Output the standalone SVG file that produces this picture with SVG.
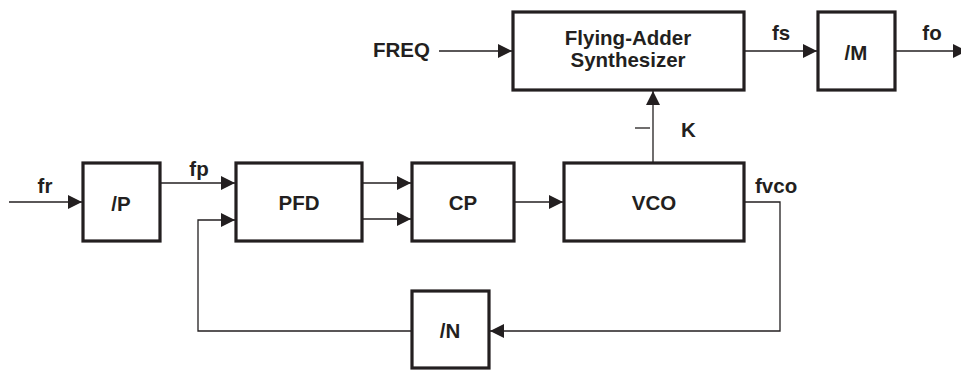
<svg xmlns="http://www.w3.org/2000/svg" width="961" height="370" viewBox="0 0 961 370">
<style>
.box{fill:#fff;stroke:#231f20;stroke-width:3.2}
.ln{fill:none;stroke:#231f20;stroke-width:1.3}
text{font-family:"Liberation Sans",Arial,sans-serif;font-weight:bold;font-size:20.5px;fill:#231f20}
.c{text-anchor:middle}
</style>
<defs>
<marker id="ah" markerUnits="userSpaceOnUse" markerWidth="14" markerHeight="14" viewBox="0 0 14 14" refX="14" refY="7" orient="auto">
<path d="M0,0 L14,7 L0,14 Z" fill="#231f20"/>
</marker>
</defs>
<rect width="961" height="370" fill="#fff"/>
<g id="connectors">
<line class="ln" x1="9" y1="202" x2="82" y2="202" marker-end="url(#ah)"/>
<line class="ln" x1="160" y1="183" x2="235" y2="183" marker-end="url(#ah)"/>
<line class="ln" x1="362" y1="183" x2="411" y2="183" marker-end="url(#ah)"/>
<line class="ln" x1="362" y1="219" x2="411" y2="219" marker-end="url(#ah)"/>
<line class="ln" x1="514" y1="202" x2="563" y2="202" marker-end="url(#ah)"/>
<polyline class="ln" points="744,202 780,202 780,331 490,331" marker-end="url(#ah)"/>
<polyline class="ln" points="412,331 198,331 198,220 235,220" marker-end="url(#ah)"/>
<line class="ln" x1="653" y1="163" x2="653" y2="91" marker-end="url(#ah)"/>
<line class="ln" x1="635" y1="128" x2="650" y2="128"/>
<line class="ln" x1="439" y1="51" x2="512" y2="51" marker-end="url(#ah)"/>
<line class="ln" x1="744" y1="51" x2="817" y2="51" marker-end="url(#ah)"/>
<line class="ln" x1="895" y1="51" x2="967" y2="51" marker-end="url(#ah)"/>
</g>
<g id="labels">
<text x="45" y="193" class="c">fr</text>
<text x="199" y="176" class="c">fp</text>
<text x="430" y="57" text-anchor="end">FREQ</text>
<text x="781" y="40" class="c">fs</text>
<text x="932" y="40" class="c">fo</text>
<text x="681" y="137">K</text>
<text x="755" y="193">fvco</text>
</g>
<g id="P"><rect class="box" x="83" y="163" width="77" height="78"/><text x="121" y="211" class="c">/P</text></g>
<g id="PFD"><rect class="box" x="236" y="163" width="126" height="78"/><text x="299" y="210" class="c">PFD</text></g>
<g id="CP"><rect class="box" x="412" y="163" width="102" height="78"/><text x="463" y="210" class="c">CP</text></g>
<g id="VCO"><rect class="box" x="564" y="163" width="180" height="78"/><text x="654" y="210" class="c">VCO</text></g>
<g id="N"><rect class="box" x="412" y="291" width="77" height="77"/><text x="450" y="338" class="c">/N</text></g>
<g id="FAS"><rect class="box" x="513" y="12" width="231" height="78"/><text x="628" y="45" class="c">Flying-Adder</text><text x="628" y="67" class="c">Synthesizer</text></g>
<g id="M"><rect class="box" x="818" y="12" width="77" height="78"/><text x="856" y="60" class="c">/M</text></g>
</svg>
